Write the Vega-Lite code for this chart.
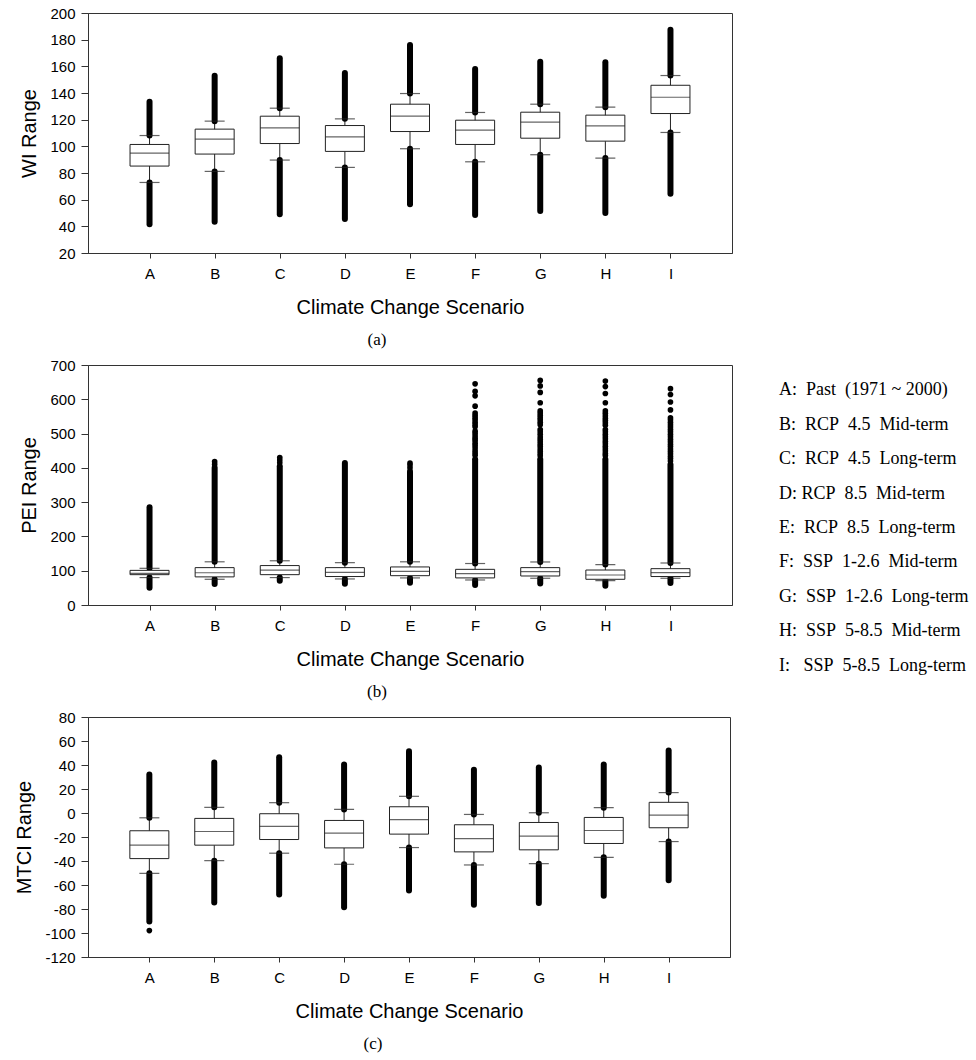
{
  "$schema": "https://vega.github.io/schema/vega-lite/v6.json",
  "padding": {"top": 5, "left": 14, "right": 0, "bottom": 0},
  "background": "white",
  "config": {
    "view": {"stroke": "#333", "strokeWidth": 1},
    "font": "Liberation Sans",
    "axis": {"grid": false, "domainColor": "#333", "tickColor": "#333", "labelColor": "#000", "titleColor": "#000", "labelFontSize": 15, "titleFontSize": 20, "titleFontWeight": "normal", "labelFont": "Liberation Sans", "titleFont": "Liberation Sans", "labelOverlap": false},
    "axisX": {"tickSize": 5, "labelPadding": 8, "titlePadding": 16, "labelAngle": 0},
    "axisY": {"tickSize": 7, "labelPadding": 6, "titlePadding": 10, "labelExpr": "datum.value + ''", "tickCount": 12},
    "title": {"font": "Liberation Serif", "fontSize": 17, "fontWeight": "normal", "color": "#000"}
  },
  "datasets": {
    "wi": [
      {"s": "A", "q1": 85.2, "med": 94.9, "q3": 101.4, "lo": 72.9, "hi": 108.1, "top": 133.5, "bot": 41.5},
      {"s": "B", "q1": 94.2, "med": 105.4, "q3": 112.9, "lo": 81.2, "hi": 118.9, "top": 153, "bot": 43.5},
      {"s": "C", "q1": 102.1, "med": 113.9, "q3": 122.6, "lo": 89.7, "hi": 128.6, "top": 166, "bot": 49},
      {"s": "D", "q1": 96.2, "med": 107.1, "q3": 115.6, "lo": 84.2, "hi": 120.6, "top": 155, "bot": 45.5},
      {"s": "E", "q1": 111.1, "med": 122.6, "q3": 131.6, "lo": 98.2, "hi": 139.6, "top": 176, "bot": 56.5},
      {"s": "F", "q1": 101.4, "med": 112.1, "q3": 119.6, "lo": 88.4, "hi": 125.4, "top": 158, "bot": 48.5},
      {"s": "G", "q1": 106.1, "med": 118.1, "q3": 125.6, "lo": 93.7, "hi": 131.6, "top": 163.5, "bot": 51.5},
      {"s": "H", "q1": 103.9, "med": 115.4, "q3": 123.4, "lo": 91.2, "hi": 129.4, "top": 163, "bot": 50},
      {"s": "I", "q1": 124.6, "med": 136.8, "q3": 145.8, "lo": 110.4, "hi": 153.1, "top": 187.5, "bot": 64.5}
    ],
    "pei": [
      {"s": "A", "q1": 88.5, "med": 92, "q3": 101, "lo": 80, "hi": 107, "top": 285, "bot": 50},
      {"s": "B", "q1": 82, "med": 94, "q3": 109, "lo": 75, "hi": 126, "top": 400, "bot": 61},
      {"s": "C", "q1": 88.5, "med": 102, "q3": 115, "lo": 80, "hi": 129, "top": 405, "bot": 71},
      {"s": "D", "q1": 83, "med": 95, "q3": 109, "lo": 76, "hi": 123.5, "top": 414, "bot": 62},
      {"s": "E", "q1": 85.5, "med": 98, "q3": 111, "lo": 79, "hi": 126, "top": 390, "bot": 65},
      {"s": "F", "q1": 79, "med": 91.5, "q3": 104, "lo": 73, "hi": 121, "top": 425, "bot": 58},
      {"s": "G", "q1": 84.6, "med": 97.3, "q3": 109, "lo": 78, "hi": 125.5, "top": 425, "bot": 63},
      {"s": "H", "q1": 75, "med": 87.5, "q3": 102, "lo": 71, "hi": 118, "top": 425, "bot": 56},
      {"s": "I", "q1": 83, "med": 94.5, "q3": 106, "lo": 78, "hi": 122.5, "top": 410, "bot": 64}
    ],
    "peiDots": [
      {"s": "B", "v": 410}, {"s": "B", "v": 418},
      {"s": "C", "v": 415}, {"s": "C", "v": 423}, {"s": "C", "v": 430},
      {"s": "E", "v": 400}, {"s": "E", "v": 408}, {"s": "E", "v": 414},
      {"s": "F", "v": 645}, {"s": "F", "v": 623}, {"s": "F", "v": 610}, {"s": "F", "v": 580}, {"s": "F", "v": 560}, {"s": "F", "v": 553}, {"s": "F", "v": 546}, {"s": "F", "v": 540}, {"s": "F", "v": 533}, {"s": "F", "v": 526}, {"s": "F", "v": 520}, {"s": "F", "v": 507}, {"s": "F", "v": 500}, {"s": "F", "v": 493}, {"s": "F", "v": 486}, {"s": "F", "v": 480}, {"s": "F", "v": 472}, {"s": "F", "v": 465}, {"s": "F", "v": 458}, {"s": "F", "v": 450}, {"s": "F", "v": 443}, {"s": "F", "v": 437},
      {"s": "G", "v": 655}, {"s": "G", "v": 639}, {"s": "G", "v": 620}, {"s": "G", "v": 590}, {"s": "G", "v": 566}, {"s": "G", "v": 560}, {"s": "G", "v": 553}, {"s": "G", "v": 546}, {"s": "G", "v": 540}, {"s": "G", "v": 533}, {"s": "G", "v": 526}, {"s": "G", "v": 512}, {"s": "G", "v": 505}, {"s": "G", "v": 498}, {"s": "G", "v": 490}, {"s": "G", "v": 483}, {"s": "G", "v": 476}, {"s": "G", "v": 469}, {"s": "G", "v": 462}, {"s": "G", "v": 455}, {"s": "G", "v": 448}, {"s": "G", "v": 441}, {"s": "G", "v": 435},
      {"s": "H", "v": 653}, {"s": "H", "v": 637}, {"s": "H", "v": 617}, {"s": "H", "v": 590}, {"s": "H", "v": 566}, {"s": "H", "v": 559}, {"s": "H", "v": 552}, {"s": "H", "v": 545}, {"s": "H", "v": 538}, {"s": "H", "v": 531}, {"s": "H", "v": 524}, {"s": "H", "v": 512}, {"s": "H", "v": 505}, {"s": "H", "v": 498}, {"s": "H", "v": 491}, {"s": "H", "v": 484}, {"s": "H", "v": 477}, {"s": "H", "v": 470}, {"s": "H", "v": 463}, {"s": "H", "v": 456}, {"s": "H", "v": 449}, {"s": "H", "v": 442}, {"s": "H", "v": 436},
      {"s": "I", "v": 631}, {"s": "I", "v": 614}, {"s": "I", "v": 592}, {"s": "I", "v": 569}, {"s": "I", "v": 546}, {"s": "I", "v": 540}, {"s": "I", "v": 533}, {"s": "I", "v": 526}, {"s": "I", "v": 519}, {"s": "I", "v": 512}, {"s": "I", "v": 505}, {"s": "I", "v": 498}, {"s": "I", "v": 491}, {"s": "I", "v": 483}, {"s": "I", "v": 476}, {"s": "I", "v": 469}, {"s": "I", "v": 462}, {"s": "I", "v": 455}, {"s": "I", "v": 448}, {"s": "I", "v": 441}, {"s": "I", "v": 434}, {"s": "I", "v": 427}, {"s": "I", "v": 420}
    ],
    "mtci": [
      {"s": "A", "q1": -38, "med": -26.8, "q3": -14.8, "lo": -50.3, "hi": -4, "top": 32, "bot": -90.5},
      {"s": "B", "q1": -26.8, "med": -15.4, "q3": -4.5, "lo": -39.7, "hi": 4.7, "top": 42, "bot": -74.5},
      {"s": "C", "q1": -22.1, "med": -11.2, "q3": -0.6, "lo": -33.5, "hi": 8.6, "top": 46.5, "bot": -68},
      {"s": "D", "q1": -29.1, "med": -16.8, "q3": -6.2, "lo": -42.7, "hi": 3, "top": 40.5, "bot": -78.5},
      {"s": "E", "q1": -17.6, "med": -5.6, "q3": 5.2, "lo": -28.8, "hi": 13.9, "top": 51.5, "bot": -64.5},
      {"s": "F", "q1": -32.4, "med": -21.3, "q3": -9.8, "lo": -43.3, "hi": -1.2, "top": 36, "bot": -76.5},
      {"s": "G", "q1": -30.7, "med": -19.3, "q3": -7.9, "lo": -42.2, "hi": 0.2, "top": 38, "bot": -75},
      {"s": "H", "q1": -25.4, "med": -14.6, "q3": -3.7, "lo": -36.9, "hi": 4.4, "top": 40.5, "bot": -69},
      {"s": "I", "q1": -12.3, "med": -1.7, "q3": 8.9, "lo": -23.8, "hi": 17, "top": 52, "bot": -56}
    ],
    "mtciDots": [{"s": "A", "v": -98}],
    "legend": [
      {"k": "A", "t": "A:\u00a0 Past\u00a0 (1971 ~ 2000)"},
      {"k": "B", "t": "B:\u00a0 RCP\u00a0 4.5\u00a0 Mid-term"},
      {"k": "C", "t": "C:\u00a0 RCP\u00a0 4.5\u00a0 Long-term"},
      {"k": "D", "t": "D: RCP\u00a0 8.5\u00a0 Mid-term"},
      {"k": "E", "t": "E:\u00a0 RCP\u00a0 8.5\u00a0 Long-term"},
      {"k": "F", "t": "F:\u00a0 SSP\u00a0 1-2.6\u00a0 Mid-term"},
      {"k": "G", "t": "G:\u00a0 SSP\u00a0 1-2.6\u00a0 Long-term"},
      {"k": "H", "t": "H:\u00a0 SSP\u00a0 5-8.5\u00a0 Mid-term"},
      {"k": "I", "t": "I:\u00a0\u00a0 SSP\u00a0 5-8.5\u00a0 Long-term"}
    ]
  },
  "align": "none",
  "spacing": 8,
  "vconcat": [
    {
      "width": 644, "height": 240,
      "title": {"text": "(a)", "orient": "bottom", "dx": -33, "offset": 15},
      "data": {"name": "wi"},
      "encoding": {"x": {"field": "s", "type": "nominal", "scale": {"type": "point", "padding": 0.945}, "axis": {"title": "Climate Change Scenario"}}},
      "layer": [
        {"mark": {"type": "rule", "color": "#222", "strokeWidth": 1},
         "encoding": {"y": {"field": "lo", "type": "quantitative", "scale": {"domain": [20, 200], "nice": false, "zero": false}, "axis": {"title": "WI Range", "labelOverlap": false, "tickCount": 12, "values": [20, 40, 60, 80, 100, 120, 140, 160, 180, 200]}}, "y2": {"field": "hi"}}},
        {"mark": {"type": "rule", "color": "#000", "strokeWidth": 6, "strokeCap": "round"},
         "encoding": {"y": {"field": "hi", "type": "quantitative", "axis": {"title": "WI Range", "labelOverlap": false, "tickCount": 12, "values": [20, 40, 60, 80, 100, 120, 140, 160, 180, 200]}}, "y2": {"field": "top"}}},
        {"mark": {"type": "rule", "color": "#000", "strokeWidth": 6, "strokeCap": "round"},
         "encoding": {"y": {"field": "bot", "type": "quantitative", "axis": {"title": "WI Range", "labelOverlap": false, "tickCount": 12, "values": [20, 40, 60, 80, 100, 120, 140, 160, 180, 200]}}, "y2": {"field": "lo"}}},
        {"mark": {"type": "bar", "width": 39, "fill": "white", "stroke": "#222", "strokeWidth": 1},
         "encoding": {"y": {"field": "q1", "type": "quantitative", "axis": {"title": "WI Range", "labelOverlap": false, "tickCount": 12, "values": [20, 40, 60, 80, 100, 120, 140, 160, 180, 200]}}, "y2": {"field": "q3"}}},
        {"mark": {"type": "tick", "size": 39, "thickness": 1.2, "color": "#222"},
         "encoding": {"y": {"field": "med", "type": "quantitative", "axis": {"title": "WI Range", "labelOverlap": false, "tickCount": 12, "values": [20, 40, 60, 80, 100, 120, 140, 160, 180, 200]}}}},
        {"mark": {"type": "tick", "size": 20, "thickness": 1.2, "color": "#222"},
         "encoding": {"y": {"field": "hi", "type": "quantitative", "axis": {"title": "WI Range", "labelOverlap": false, "tickCount": 12, "values": [20, 40, 60, 80, 100, 120, 140, 160, 180, 200]}}}},
        {"mark": {"type": "tick", "size": 20, "thickness": 1.2, "color": "#222"},
         "encoding": {"y": {"field": "lo", "type": "quantitative", "axis": {"title": "WI Range", "labelOverlap": false, "tickCount": 12, "values": [20, 40, 60, 80, 100, 120, 140, 160, 180, 200]}}}}
      ]
    },
    {
      "hconcat": [
        {
          "width": 644, "height": 240,
          "title": {"text": "(b)", "orient": "bottom", "dx": -33, "offset": 15},
          "encoding": {"x": {"field": "s", "type": "nominal", "scale": {"type": "point", "padding": 0.945}, "axis": {"title": "Climate Change Scenario"}}},
          "layer": [
            {"data": {"name": "pei"}, "mark": {"type": "rule", "color": "#222", "strokeWidth": 1},
             "encoding": {"y": {"field": "lo", "type": "quantitative", "scale": {"domain": [0, 700], "nice": false}, "axis": {"title": "PEI Range", "labelOverlap": false, "tickCount": 12, "values": [0, 100, 200, 300, 400, 500, 600, 700]}}, "y2": {"field": "hi"}}},
            {"data": {"name": "pei"}, "mark": {"type": "rule", "color": "#000", "strokeWidth": 6, "strokeCap": "round"},
             "encoding": {"y": {"field": "hi", "type": "quantitative", "axis": {"title": "PEI Range", "labelOverlap": false, "tickCount": 12, "values": [0, 100, 200, 300, 400, 500, 600, 700]}}, "y2": {"field": "top"}}},
            {"data": {"name": "pei"}, "mark": {"type": "rule", "color": "#000", "strokeWidth": 6, "strokeCap": "round"},
             "encoding": {"y": {"field": "bot", "type": "quantitative", "axis": {"title": "PEI Range", "labelOverlap": false, "tickCount": 12, "values": [0, 100, 200, 300, 400, 500, 600, 700]}}, "y2": {"field": "lo"}}},
            {"data": {"name": "peiDots"}, "mark": {"type": "point", "filled": true, "color": "#000", "size": 32, "opacity": 1},
             "encoding": {"y": {"field": "v", "type": "quantitative", "axis": {"title": "PEI Range", "labelOverlap": false, "tickCount": 12, "values": [0, 100, 200, 300, 400, 500, 600, 700]}}}},
            {"data": {"name": "pei"}, "mark": {"type": "bar", "width": 39, "fill": "white", "stroke": "#222", "strokeWidth": 1},
             "encoding": {"y": {"field": "q1", "type": "quantitative", "axis": {"title": "PEI Range", "labelOverlap": false, "tickCount": 12, "values": [0, 100, 200, 300, 400, 500, 600, 700]}}, "y2": {"field": "q3"}}},
            {"data": {"name": "pei"}, "mark": {"type": "tick", "size": 39, "thickness": 1.2, "color": "#222"},
             "encoding": {"y": {"field": "med", "type": "quantitative", "axis": {"title": "PEI Range", "labelOverlap": false, "tickCount": 12, "values": [0, 100, 200, 300, 400, 500, 600, 700]}}}},
            {"data": {"name": "pei"}, "mark": {"type": "tick", "size": 20, "thickness": 1.2, "color": "#222"},
             "encoding": {"y": {"field": "hi", "type": "quantitative", "axis": {"title": "PEI Range", "labelOverlap": false, "tickCount": 12, "values": [0, 100, 200, 300, 400, 500, 600, 700]}}}},
            {"data": {"name": "pei"}, "mark": {"type": "tick", "size": 20, "thickness": 1.2, "color": "#222"},
             "encoding": {"y": {"field": "lo", "type": "quantitative", "axis": {"title": "PEI Range", "labelOverlap": false, "tickCount": 12, "values": [0, 100, 200, 300, 400, 500, 600, 700]}}}}
          ]
        },
        {
          "width": 20, "height": 326,
          "view": {"stroke": null},
          "data": {"name": "legend"},
          "mark": {"type": "text", "align": "left", "baseline": "middle", "font": "Liberation Serif", "fontSize": 18, "color": "#000"},
          "encoding": {
            "y": {"field": "k", "type": "nominal", "scale": {"type": "point", "padding": 0.725}, "axis": null},
            "text": {"field": "t"}
          }
        }
      ],
      "spacing": 36
    },
    {
      "width": 642, "height": 240,
      "title": {"text": "(c)", "orient": "bottom", "dx": -36, "offset": 15},
      "encoding": {"x": {"field": "s", "type": "nominal", "scale": {"type": "point", "padding": 0.945}, "axis": {"title": "Climate Change Scenario"}}},
      "layer": [
        {"data": {"name": "mtci"}, "mark": {"type": "rule", "color": "#222", "strokeWidth": 1},
         "encoding": {"y": {"field": "lo", "type": "quantitative", "scale": {"domain": [-120, 80], "nice": false, "zero": false}, "axis": {"title": "MTCI Range", "labelOverlap": false, "tickCount": 12, "values": [-120, -100, -80, -60, -40, -20, 0, 20, 40, 60, 80]}}, "y2": {"field": "hi"}}},
        {"data": {"name": "mtci"}, "mark": {"type": "rule", "color": "#000", "strokeWidth": 6, "strokeCap": "round"},
         "encoding": {"y": {"field": "hi", "type": "quantitative", "axis": {"title": "MTCI Range", "labelOverlap": false, "tickCount": 12, "values": [-120, -100, -80, -60, -40, -20, 0, 20, 40, 60, 80]}}, "y2": {"field": "top"}}},
        {"data": {"name": "mtci"}, "mark": {"type": "rule", "color": "#000", "strokeWidth": 6, "strokeCap": "round"},
         "encoding": {"y": {"field": "bot", "type": "quantitative", "axis": {"title": "MTCI Range", "labelOverlap": false, "tickCount": 12, "values": [-120, -100, -80, -60, -40, -20, 0, 20, 40, 60, 80]}}, "y2": {"field": "lo"}}},
        {"data": {"name": "mtciDots"}, "mark": {"type": "point", "filled": true, "color": "#000", "size": 32, "opacity": 1},
         "encoding": {"y": {"field": "v", "type": "quantitative", "axis": {"title": "MTCI Range", "labelOverlap": false, "tickCount": 12, "values": [-120, -100, -80, -60, -40, -20, 0, 20, 40, 60, 80]}}}},
        {"data": {"name": "mtci"}, "mark": {"type": "bar", "width": 39, "fill": "white", "stroke": "#222", "strokeWidth": 1},
         "encoding": {"y": {"field": "q1", "type": "quantitative", "axis": {"title": "MTCI Range", "labelOverlap": false, "tickCount": 12, "values": [-120, -100, -80, -60, -40, -20, 0, 20, 40, 60, 80]}}, "y2": {"field": "q3"}}},
        {"data": {"name": "mtci"}, "mark": {"type": "tick", "size": 39, "thickness": 1.2, "color": "#222"},
         "encoding": {"y": {"field": "med", "type": "quantitative", "axis": {"title": "MTCI Range", "labelOverlap": false, "tickCount": 12, "values": [-120, -100, -80, -60, -40, -20, 0, 20, 40, 60, 80]}}}},
        {"data": {"name": "mtci"}, "mark": {"type": "tick", "size": 20, "thickness": 1.2, "color": "#222"},
         "encoding": {"y": {"field": "hi", "type": "quantitative", "axis": {"title": "MTCI Range", "labelOverlap": false, "tickCount": 12, "values": [-120, -100, -80, -60, -40, -20, 0, 20, 40, 60, 80]}}}},
        {"data": {"name": "mtci"}, "mark": {"type": "tick", "size": 20, "thickness": 1.2, "color": "#222"},
         "encoding": {"y": {"field": "lo", "type": "quantitative", "axis": {"title": "MTCI Range", "labelOverlap": false, "tickCount": 12, "values": [-120, -100, -80, -60, -40, -20, 0, 20, 40, 60, 80]}}}}
      ]
    }
  ]
}
